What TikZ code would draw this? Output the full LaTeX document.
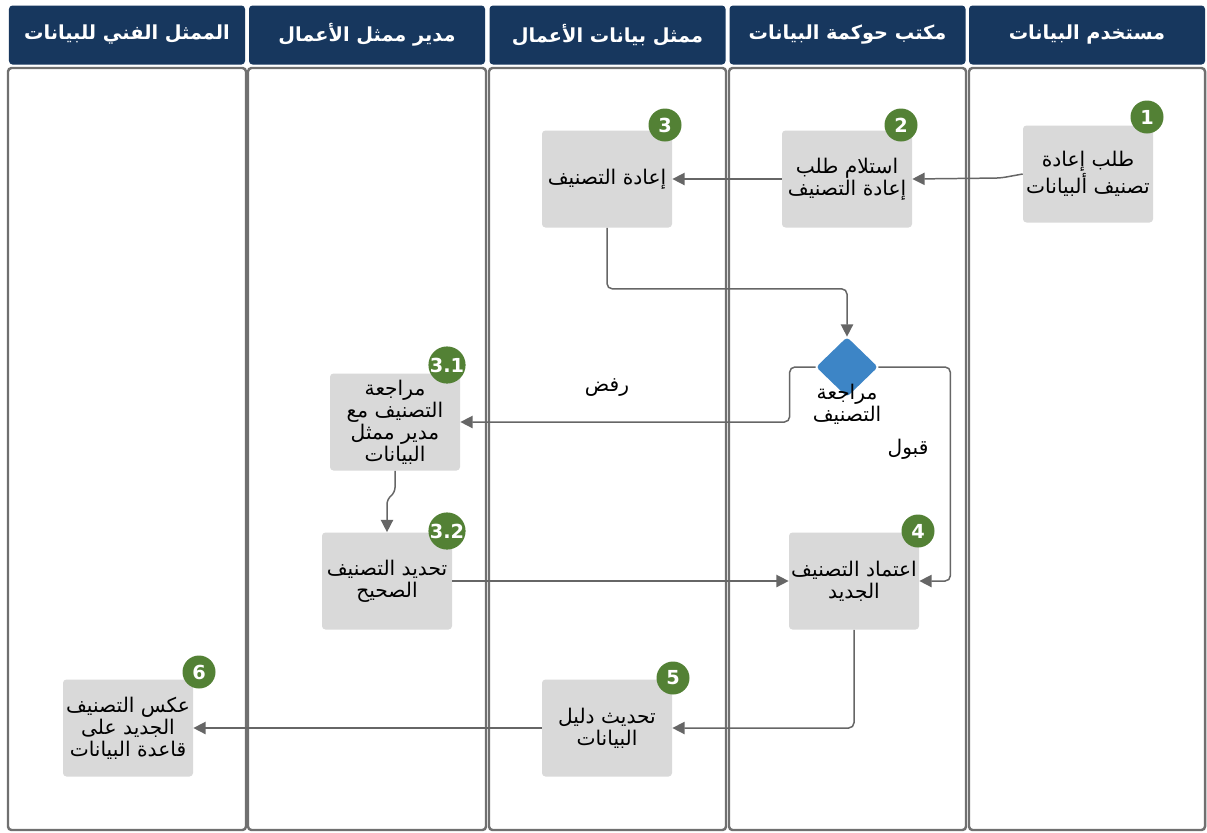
\documentclass[tikz,border=0pt]{standalone}
\usepackage{fontspec}
\newfontfamily\arabicfont[Script=Arabic]{DejaVu Sans}
\TeXXeTstate=1
\usetikzlibrary{arrows.meta,
                positioning,
                shapes.geometric
                }
\definecolor{lanenavy}{RGB}{23,55,94}
\definecolor{lanegray}{RGB}{112,112,112}
\definecolor{taskgray}{RGB}{217,217,217}
\definecolor{badgegreen}{RGB}{83,129,53}
\definecolor{decblue}{RGB}{61,133,198}
\definecolor{flowgray}{RGB}{102,102,102}
\newcommand\rl[1]{\beginR #1\endR}

\begin{document}
\begin{tikzpicture}[x=0.2mm, y=-0.2mm,
      hdr/.style = {fill=lanenavy, rounded corners=2pt,
                    minimum width=47.2mm, minimum height=11.8mm, text=white,
                    font=\arabicfont\bfseries\fontsize{11}{13}\selectfont},
     lane/.style = {draw=lanegray, line width=1.4pt, rounded corners=2pt},
     task/.style = {fill=taskgray, rounded corners=2pt, inner sep=1pt,
                    minimum width=26mm, minimum height=19.4mm, align=center,
                    font=\arabicfont\fontsize{11.5}{12.5}\selectfont},
    badge/.style = {circle, fill=badgegreen, text=white, minimum size=6.6mm,
                    inner sep=0pt, font=\arabicfont\bfseries\fontsize{11}{12}\selectfont},
 decision/.style = {diamond, fill=decblue, minimum width=12.4mm,
                    minimum height=12mm, inner sep=0pt, rounded corners=2pt},
 flowline/.style = {draw=flowgray, line width=0.85pt, rounded corners=3pt,
                    -{Triangle[width=7pt,length=7pt]}},
      lbl/.style = {align=center, font=\arabicfont\fontsize{11.5}{12.5}\selectfont}
      ]
    \useasboundingbox[fill=white] (0,0) rectangle (1207,832);
    % lanes
    \draw[lane] (8,68) rectangle (246,830);
    \draw[lane] (248,68) rectangle (486,830);
    \draw[lane] (489,68) rectangle (726,830);
    \draw[lane] (729,68) rectangle (966,830);
    \draw[lane] (969,68) rectangle (1205,830);
    \node (h1) [hdr] at (127,35) {\rl{الممثل الفني للبيانات}};
    \node (h2) [hdr] at (367,35) {\rl{مدير ممثل الأعمال}};
    \node (h3) [hdr] at (607.5,35) {\rl{ممثل بيانات الأعمال}};
    \node (h4) [hdr] at (847.5,35) {\rl{مكتب حوكمة البيانات}};
    \node (h5) [hdr] at (1087,35) {\rl{مستخدم البيانات}};
    % tasks
    \node (n1) [task] at (1088,174) {\rl{طلب إعادة}\\\rl{تصنيف ألبيانات}};
    \node (n2) [task] at (847,179) {\rl{استلام طلب}\\\rl{إعادة التصنيف}};
    \node (n3) [task] at (607,179) {\rl{إعادة التصنيف}};
    \node (d1) [decision] at (847,367) {};
    \node (d1l) [lbl] at (847,404) {\rl{مراجعة}\\\rl{التصنيف}};
    \node (n31) [task] at (395,422) {\rl{مراجعة}\\\rl{التصنيف مع}\\\rl{مدير ممثل}\\\rl{البيانات}};
    \node (n32) [task] at (387,581) {\rl{تحديد التصنيف}\\\rl{الصحيح}};
    \node (n4) [task] at (854,581) {\rl{اعتماد التصنيف}\\\rl{الجديد}};
    \node (n5) [task] at (607,728) {\rl{تحديث دليل}\\\rl{البيانات}};
    \node (n6) [task] at (128,728) {\rl{عكس التصنيف}\\\rl{الجديد على}\\\rl{قاعدة البيانات}};
    % badges
    \node (b1) [badge] at (1147,117) {1};
    \node (b2) [badge] at (901,125) {2};
    \node (b3) [badge] at (665,125) {3};
    \node (b31) [badge] at (447,365) {3.1};
    \node (b32) [badge] at (447,531) {3.2};
    \node (b4) [badge] at (918,531) {4};
    \node (b5) [badge] at (673,678) {5};
    \node (b6) [badge] at (199,672) {6};
    % flow
    \draw[flowline] (n1.west) -- ++(-22,4) -- (n2.east);
    \draw[flowline] (n2) -- (n3);
    \draw[flowline] (n3.south) -- ++(0,61) -| (d1.north);
    \draw[flowline] (d1.west) -- ++(-26,0) |- (n31.east);
    \draw[flowline] (d1.east) -- ++(72,0) |- (n4.east);
    \draw[flowline] (n31.south) -- ++(0,22) -- ++(-8,6) -- (n32.north);
    \draw[flowline] (n32) -- (n4);
    \draw[flowline] (n4.south) |- (n5.east);
    \draw[flowline] (n5) -- (n6);
    \node (rej) [lbl] at (607,388) {\rl{رفض}};
    \node (acc) [lbl] at (908,449) {\rl{قبول}};
\end{tikzpicture}
\end{document}
